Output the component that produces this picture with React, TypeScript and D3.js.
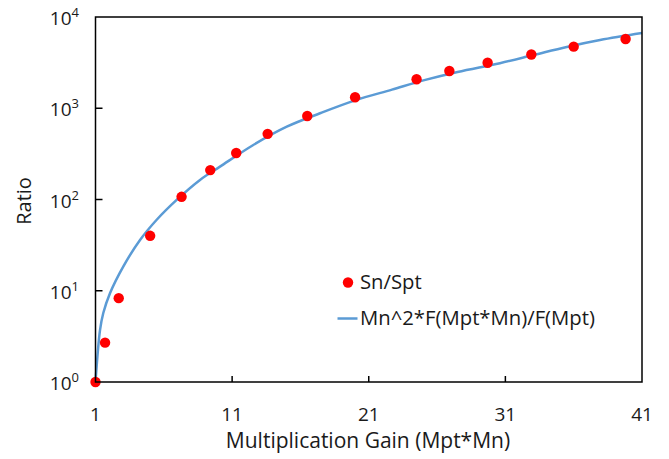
import React from 'react';
import * as d3 from 'd3';

// measured ratio Sn/Spt
const pointGain = [1, 1.7, 2.7, 5, 7.3, 9.4, 11.3, 13.6, 16.5, 20, 24.5, 26.9, 29.7, 32.9, 36, 39.8];
const pointRatio = [1, 2.7, 8.3, 40, 107, 210, 323, 524, 822, 1320, 2080, 2560, 3150, 3880, 4730, 5740];

// model curve Mn^2*F(Mpt*Mn)/F(Mpt)
const curveGain = [1, 1.33, 1.57, 2.06, 3.03, 4.26, 5.48, 6.94, 8.65, 10.11, 12.55, 15, 17.43, 20, 22.7, 25, 27.5, 30.6, 33.05, 35.49, 37.93, 41];
const curveRatio = [1, 3.7, 5.7, 9.4, 18.4, 36, 60, 99, 164, 229, 396, 628, 881, 1220, 1600, 2020, 2500, 3120, 3830, 4700, 5600, 6680];

const xTicks = [1, 11, 21, 31, 41];
const yTicks = [1, 10, 100, 1000, 10000];

const W = 669;
const H = 459;
const font = '"Open Sans", sans-serif';
const blue = '#5B9BD5';
const red = '#FF0000';
const ink = '#1a1a1a';

export default function App() {
  const x = d3.scaleLinear().domain([1, 41]).range([95.5, 642]);
  const y = d3.scaleLog().domain([1, 10000]).range([382, 17]);

  const line = d3
    .line<number>()
    .x((d, i) => x(curveGain[i]))
    .y((d) => y(d))
    .curve(d3.curveCatmullRom.alpha(0.5));

  const [x0, x1] = x.range();
  const [y0, y1] = y.range();

  return (
    <svg
      width={W}
      height={H}
      style={{ position: 'absolute', left: 0, top: 0, background: '#fff' }}
      fontFamily={font}
    >
      <rect width={W} height={H} fill="#fff" />

      {/* curve first, dots on top */}
      <path d={line(curveRatio) || ''} fill="none" stroke={blue} strokeWidth={2.5} />
      {pointRatio.map((v, i) => (
        <circle key={i} cx={x(pointGain[i])} cy={y(v)} r={5.2} fill={red} />
      ))}

      {/* frame */}
      <rect x={x0} y={y1} width={x1 - x0} height={y0 - y1} fill="none" stroke="#000" strokeWidth={1.5} />

      {/* x ticks */}
      {xTicks.map((t) => (
        <g key={t}>
          {t !== 1 && t !== 41 && (
            <line x1={x(t)} x2={x(t)} y1={y0} y2={y0 - 6} stroke="#000" strokeWidth={1.5} />
          )}
          <text x={x(t)} y={421} textAnchor="middle" fontSize={19} fill={ink}>
            {t}
          </text>
        </g>
      ))}

      {/* y ticks */}
      {yTicks.map((t) => {
        const exp = Math.round(Math.log10(t));
        return (
          <g key={t}>
            {t !== 1 && t !== 10000 && (
              <line x1={x0} x2={x0 + 7} y1={y(t)} y2={y(t)} stroke="#000" strokeWidth={1.5} />
            )}
            <text x={79} y={y(t) + 8} textAnchor="end" fontSize={19} fill={ink}>
              10
              <tspan dy={-8} fontSize={13}>
                {exp}
              </tspan>
            </text>
          </g>
        );
      })}

      {/* axis titles */}
      <text x={368} y={448} textAnchor="middle" fontSize={21} fill={ink}>
        Multiplication Gain (Mpt*Mn)
      </text>
      <text
        transform="translate(31,201) rotate(-90)"
        textAnchor="middle"
        fontSize={20}
        fill={ink}
      >
        Ratio
      </text>

      {/* legend */}
      <circle cx={348} cy={282.5} r={5.2} fill={red} />
      <text x={360} y={289} fontSize={20.3} fill={ink}>
        Sn/Spt
      </text>
      <line x1={337.5} x2={357.5} y1={318.5} y2={318.5} stroke={blue} strokeWidth={2.5} />
      <text x={360} y={325} fontSize={20.3} fill={ink}>
        Mn^2*F(Mpt*Mn)/F(Mpt)
      </text>
    </svg>
  );
}
